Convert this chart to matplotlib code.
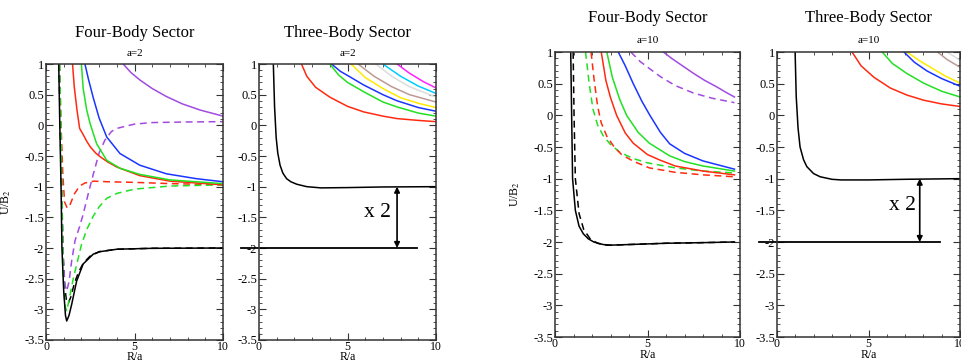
import matplotlib.pyplot as plt
from matplotlib.ticker import MultipleLocator, FuncFormatter

# curve data (x = R/a, y = U/B2)
# ---- Four-Body Sector, a=2
fb2_black_x = [0.72, 0.78, 0.85, 0.9, 1.0, 1.1, 1.17, 1.3, 1.45, 1.73, 2.1, 2.67, 3.05, 4.0, 6.0, 10.0]
fb2_black_y = [1.0, 0.0, -1.0, -2.0, -2.7, -3.1, -3.19, -3.1, -2.92, -2.54, -2.26, -2.1, -2.06, -2.02, -2.005, -2.0]
fb2_blackd_x = [0.74, 0.8, 0.88, 0.95, 1.05, 1.15, 1.26, 1.4, 1.6, 1.83, 2.1, 2.5, 3.0, 4.0, 6.0, 10.0]
fb2_blackd_y = [1.0, 0.0, -1.0, -2.0, -2.6, -2.85, -2.9, -2.8, -2.58, -2.4, -2.25, -2.13, -2.06, -2.02, -2.005, -2.0]
fb2_redd_x = [0.76, 0.85, 0.95, 1.05, 1.2, 1.35, 1.6, 1.9, 2.2, 2.7, 3.5, 5.0, 7.0, 10.0]
fb2_redd_y = [1.0, 0.0, -0.8, -1.25, -1.35, -1.3, -1.12, -0.99, -0.94, -0.91, -0.92, -0.93, -0.95, -0.97]
fb2_purpd_x = [0.76, 0.82, 0.9, 0.98, 1.07, 1.17, 1.3, 1.45, 1.64, 1.9, 2.1, 2.4, 2.67, 3.0, 3.33, 3.7, 4.0, 5.0, 6.0, 8.0, 10.0]
fb2_purpd_y = [1.0, 0.0, -1.2, -2.2, -2.6, -2.7, -2.55, -2.21, -1.88, -1.65, -1.45, -1.1, -0.8, -0.45, -0.24, -0.1, -0.05, 0.02, 0.045, 0.055, 0.06]
fb2_greend_x = [0.77, 0.84, 0.92, 0.98, 1.08, 1.17, 1.3, 1.54, 1.75, 2.0, 2.3, 2.67, 3.0, 3.43, 4.0, 5.0, 7.0, 10.0]
fb2_greend_y = [1.0, 0.0, -1.5, -2.5, -2.95, -3.03, -2.85, -2.5, -2.25, -1.95, -1.7, -1.48, -1.33, -1.19, -1.11, -1.04, -0.99, -0.97]
fb2_red_x = [1.5, 1.6, 1.75, 1.9, 2.1, 2.3, 2.5, 2.8, 3.05, 3.5, 4.0, 5.3, 7.0, 10.0]
fb2_red_y = [1.0, 0.62, 0.25, -0.05, -0.15, -0.26, -0.35, -0.45, -0.51, -0.6, -0.68, -0.82, -0.91, -0.97]
fb2_green_x = [2.0, 2.1, 2.3, 2.5, 2.86, 3.43, 4.18, 5.3, 7.0, 10.0]
fb2_green_y = [1.0, 0.6, 0.25, 0.02, -0.3, -0.57, -0.7, -0.8, -0.89, -0.95]
fb2_blue_x = [2.2, 2.4, 2.67, 3.0, 3.43, 4.18, 5.3, 6.8, 8.5, 10.0]
fb2_blue_y = [1.0, 0.75, 0.45, 0.12, -0.19, -0.46, -0.65, -0.79, -0.87, -0.92]
fb2_purp_x = [4.36, 4.8, 5.3, 6.0, 6.8, 7.7, 8.7, 10.0]
fb2_purp_y = [1.0, 0.86, 0.74, 0.6, 0.47, 0.35, 0.25, 0.15]

# ---- Three-Body Sector, a=2
tb2_black_x = [0.81, 0.88, 0.97, 1.06, 1.19, 1.35, 1.56, 1.8, 2.13, 2.7, 3.5, 5.0, 7.0, 10.0]
tb2_black_y = [1.0, 0.3, -0.2, -0.45, -0.65, -0.78, -0.87, -0.92, -0.96, -1.0, -1.02, -1.015, -1.005, -1.0]
tb2_red_x = [2.4, 2.7, 3.2, 4.0, 5.0, 5.9, 7.0, 7.8, 9.0, 10.0]
tb2_red_y = [1.0, 0.8, 0.62, 0.46, 0.31, 0.22, 0.15, 0.11, 0.08, 0.06]
tb2_green_x = [4.0, 4.5, 5.0, 5.9, 7.0, 7.8, 9.0, 10.0]
tb2_green_y = [1.0, 0.82, 0.7, 0.55, 0.38, 0.3, 0.2, 0.15]
tb2_blue_x = [4.1, 4.6, 5.2, 5.9, 7.0, 7.8, 9.0, 10.0]
tb2_blue_y = [1.0, 0.88, 0.78, 0.66, 0.5, 0.4, 0.29, 0.23]
tb2_yellow_x = [5.2, 6.0, 7.0, 8.0, 9.0, 10.0]
tb2_yellow_y = [1.0, 0.78, 0.6, 0.45, 0.36, 0.29]
tb2_brown_x = [5.6, 6.5, 7.5, 8.5, 10.0]
tb2_brown_y = [1.0, 0.8, 0.63, 0.5, 0.38]
tb2_gray_x = [6.6, 7.5, 8.5, 10.0]
tb2_gray_y = [1.0, 0.8, 0.63, 0.46]
tb2_cyan_x = [7.0, 8.0, 9.0, 10.0]
tb2_cyan_y = [1.0, 0.8, 0.64, 0.52]
tb2_mag_x = [7.8, 8.5, 9.3, 10.0]
tb2_mag_y = [1.0, 0.85, 0.71, 0.61]

# ---- Four-Body Sector, a=10
fb10_black_x = [0.85, 0.9, 0.95, 1.1, 1.3, 1.53, 1.8, 2.1, 2.6, 3.0, 4.0, 6.0, 8.0, 9.7]
fb10_black_y = [1.0, 0.0, -1.0, -1.5, -1.75, -1.87, -1.95, -2.0, -2.04, -2.05, -2.04, -2.02, -2.01, -2.0]
fb10_blackd_x = [0.98, 1.03, 1.1, 1.3, 1.55, 1.9, 2.3, 2.7, 3.0, 4.0, 6.0, 8.0, 9.7]
fb10_blackd_y = [1.0, 0.0, -1.0, -1.55, -1.8, -1.95, -2.02, -2.05, -2.05, -2.04, -2.02, -2.01, -2.0]
fb10_greend_x = [1.65, 1.85, 2.05, 2.3, 2.6, 3.0, 3.5, 4.2, 5.0, 6.5, 8.0, 9.7]
fb10_greend_y = [1.0, 0.5, 0.1, -0.15, -0.32, -0.46, -0.58, -0.68, -0.75, -0.83, -0.88, -0.91]
fb10_redd_x = [1.95, 2.1, 2.3, 2.5, 2.8, 3.2, 3.6, 4.2, 5.1, 6.5, 8.0, 9.7]
fb10_redd_y = [1.0, 0.6, 0.15, -0.12, -0.33, -0.5, -0.62, -0.72, -0.83, -0.9, -0.94, -0.97]
fb10_red_x = [2.5, 2.75, 3.0, 3.33, 3.8, 4.23, 5.0, 5.7, 6.5, 8.0, 9.7]
fb10_red_y = [1.0, 0.55, 0.28, 0.0, -0.28, -0.44, -0.62, -0.71, -0.8, -0.88, -0.94]
fb10_green_x = [2.8, 3.1, 3.5, 3.87, 4.5, 5.1, 6.2, 7.0, 8.0, 9.7]
fb10_green_y = [1.0, 0.6, 0.25, 0.0, -0.27, -0.44, -0.64, -0.73, -0.8, -0.88]
fb10_blue_x = [3.42, 3.8, 4.23, 4.7, 5.13, 5.7, 6.2, 7.0, 8.0, 9.7]
fb10_blue_y = [1.0, 0.78, 0.5, 0.22, 0.0, -0.27, -0.45, -0.6, -0.72, -0.85]
fb10_purpd_x = [4.1, 4.6, 5.1, 5.7, 6.5, 7.5, 8.5, 9.7]
fb10_purpd_y = [1.0, 0.85, 0.74, 0.61, 0.47, 0.35, 0.27, 0.2]
fb10_purp_x = [5.86, 6.3, 6.8, 7.5, 8.1, 8.74, 9.2, 9.7]
fb10_purp_y = [1.0, 0.9, 0.8, 0.66, 0.55, 0.45, 0.37, 0.29]

# ---- Three-Body Sector, a=10
tb10_black_x = [0.99, 1.05, 1.15, 1.26, 1.45, 1.63, 2.0, 2.36, 3.0, 3.5, 5.0, 7.0, 10.0]
tb10_black_y = [1.0, 0.3, -0.2, -0.5, -0.7, -0.81, -0.92, -0.97, -1.01, -1.02, -1.02, -1.01, -1.0]
tb10_red_x = [4.1, 4.6, 5.3, 6.2, 7.1, 8.0, 9.0, 10.0]
tb10_red_y = [1.0, 0.78, 0.6, 0.43, 0.32, 0.24, 0.18, 0.14]
tb10_green_x = [5.75, 6.3, 7.1, 8.0, 9.0, 10.0]
tb10_green_y = [1.0, 0.82, 0.66, 0.51, 0.38, 0.29]
tb10_blue_x = [6.94, 7.5, 8.2, 9.0, 10.0]
tb10_blue_y = [1.0, 0.84, 0.7, 0.58, 0.46]
tb10_yellow_x = [7.1, 7.8, 8.5, 9.2, 10.0]
tb10_yellow_y = [1.0, 0.86, 0.74, 0.62, 0.51]
tb10_brown_x = [8.77, 9.3, 10.0]
tb10_brown_y = [1.0, 0.88, 0.76]
tb10_gray_x = [9.3, 10.0]
tb10_gray_y = [1.0, 0.87]

# reference line at twice the three-body threshold, and the arrow
ref_x = [-1.0, 8.9]
ref_y = [-2.0, -2.0]
arrow_x = 7.8
arrow_top, arrow_bot = -1.0, -2.0

RED = '#ff2a10'
GREEN = '#22e022'
BLUE = '#1a35ff'
PURPLE = '#a24be0'
YELLOW = '#ffea00'
BROWN = '#bc9a94'
LGRAY = '#dcdcdc'
CYAN = '#00ccff'
MAGENTA = '#ff22ff'
DASH = (0, (4.5, 3))
LW = 1.1

plt.rcParams['font.family'] = ['Liberation Serif', 'DejaVu Serif']
plt.rcParams['mathtext.fontset'] = 'stix'
plt.rcParams['axes.unicode_minus'] = False

fig = plt.figure(figsize=(9.61, 3.64), dpi=100)
ax1 = fig.add_axes([46 / 961, 24 / 364, 177 / 961, 276 / 364])
ax2 = fig.add_axes([259 / 961, 24 / 364, 177 / 961, 276 / 364])
ax3 = fig.add_axes([555 / 961, 27 / 364, 185 / 961, 285 / 364])
ax4 = fig.add_axes([777 / 961, 27 / 364, 183 / 961, 285 / 364])


def style(ax, title, sub, t_off, s_off, ylabel):
    ax.set_xlim(0, 10)
    ax.set_ylim(-3.5, 1)
    ax.xaxis.set_major_locator(MultipleLocator(5))
    ax.xaxis.set_minor_locator(MultipleLocator(1))
    ax.yaxis.set_major_locator(MultipleLocator(0.5))
    ax.yaxis.set_minor_locator(MultipleLocator(0.1))
    fmt = FuncFormatter(lambda v, p: f'{v + 0:g}')
    ax.xaxis.set_major_formatter(fmt)
    ax.yaxis.set_major_formatter(fmt)
    ax.tick_params(which='both', direction='in', top=True, right=True,
                   labelsize=9, pad=1.5, color='#333333')
    ax.tick_params(axis='x', labelsize=8.5, pad=1)
    ax.tick_params(which='major', length=5, width=0.8)
    ax.tick_params(which='minor', length=2.5, width=0.6)
    for s in ax.spines.values():
        s.set_linewidth(1.1)
        s.set_color('#333333')
    ax.set_xlabel('R/a', fontsize=8.5, va='center')
    h = ax.get_position().height * 364
    ax.xaxis.set_label_coords(0.5, -17.5 / h)
    if ylabel:
        ax.set_ylabel('U/B$_2$', fontsize=8.5)
        ax.yaxis.set_label_coords(-33 / (ax.get_position().width * 961), 0.5)
    ax.annotate(title, xy=(0.5, 1), xycoords='axes fraction',
                xytext=(0, t_off), textcoords='offset points',
                ha='center', va='center', fontsize=12)
    ax.annotate(sub, xy=(0.5, 1), xycoords='axes fraction',
                xytext=(0, s_off), textcoords='offset points',
                ha='center', va='center', fontsize=8)


# Four-body a=2
ax1.plot(fb2_blackd_x, fb2_blackd_y, color='black', ls=DASH, lw=LW)
ax1.plot(fb2_redd_x, fb2_redd_y, color=RED, ls=DASH, lw=LW)
ax1.plot(fb2_purpd_x, fb2_purpd_y, color=PURPLE, ls=DASH, lw=LW)
ax1.plot(fb2_greend_x, fb2_greend_y, color=GREEN, ls=DASH, lw=LW)
ax1.plot(fb2_red_x, fb2_red_y, color=RED, lw=LW)
ax1.plot(fb2_green_x, fb2_green_y, color=GREEN, lw=LW)
ax1.plot(fb2_blue_x, fb2_blue_y, color=BLUE, lw=LW)
ax1.plot(fb2_purp_x, fb2_purp_y, color=PURPLE, lw=LW)
ax1.plot(fb2_black_x, fb2_black_y, color='black', lw=LW)
style(ax1, 'Four-Body Sector', 'a=2', 22.5, 7.5, True)

# Three-body a=2
for xs, ys, c in [(tb2_mag_x, tb2_mag_y, MAGENTA), (tb2_cyan_x, tb2_cyan_y, CYAN),
                  (tb2_gray_x, tb2_gray_y, LGRAY), (tb2_brown_x, tb2_brown_y, BROWN),
                  (tb2_yellow_x, tb2_yellow_y, YELLOW), (tb2_blue_x, tb2_blue_y, BLUE),
                  (tb2_green_x, tb2_green_y, GREEN), (tb2_red_x, tb2_red_y, RED),
                  (tb2_black_x, tb2_black_y, 'black')]:
    ax2.plot(xs, ys, color=c, lw=LW)
style(ax2, 'Three-Body Sector', 'a=2', 22.5, 7.5, False)

# Four-body a=10
ax3.plot(fb10_blackd_x, fb10_blackd_y, color='black', ls=DASH, lw=LW)
ax3.plot(fb10_greend_x, fb10_greend_y, color=GREEN, ls=DASH, lw=LW)
ax3.plot(fb10_redd_x, fb10_redd_y, color=RED, ls=DASH, lw=LW)
ax3.plot(fb10_purpd_x, fb10_purpd_y, color=PURPLE, ls=DASH, lw=LW)
ax3.plot(fb10_red_x, fb10_red_y, color=RED, lw=LW)
ax3.plot(fb10_green_x, fb10_green_y, color=GREEN, lw=LW)
ax3.plot(fb10_blue_x, fb10_blue_y, color=BLUE, lw=LW)
ax3.plot(fb10_purp_x, fb10_purp_y, color=PURPLE, lw=LW)
ax3.plot(fb10_black_x, fb10_black_y, color='black', lw=LW)
style(ax3, 'Four-Body Sector', 'a=10', 24.5, 8.6, True)

# Three-body a=10
for xs, ys, c in [(tb10_gray_x, tb10_gray_y, LGRAY), (tb10_brown_x, tb10_brown_y, BROWN),
                  (tb10_yellow_x, tb10_yellow_y, YELLOW), (tb10_blue_x, tb10_blue_y, BLUE),
                  (tb10_green_x, tb10_green_y, GREEN), (tb10_red_x, tb10_red_y, RED),
                  (tb10_black_x, tb10_black_y, 'black')]:
    ax4.plot(xs, ys, color=c, lw=LW)
style(ax4, 'Three-Body Sector', 'a=10', 24.5, 8.6, False)

# "x 2" marker on both three-body panels
for ax, tx in [(ax2, 6.7), (ax4, 6.85)]:
    ax.plot(ref_x, ref_y, color='black', lw=1.3, clip_on=False)
    ax.annotate('', xy=(arrow_x, arrow_top), xytext=(arrow_x, arrow_bot),
                arrowprops=dict(arrowstyle='<|-|>', color='black', lw=1.2,
                                mutation_scale=8, shrinkA=0, shrinkB=0))
    ax.text(tx, -1.42, 'x 2', fontsize=15.5, ha='center', va='center')

plt.savefig('out.png', dpi=100)
